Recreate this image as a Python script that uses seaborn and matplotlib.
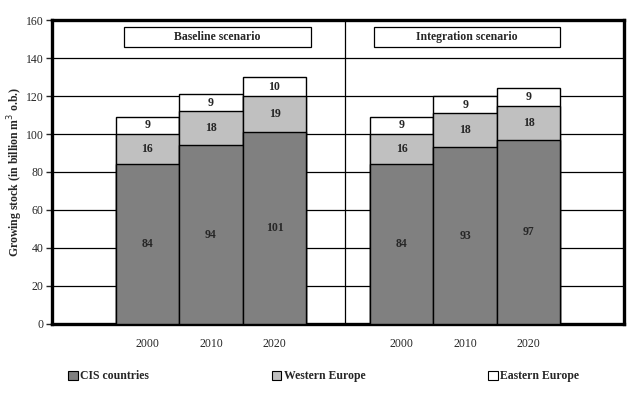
import matplotlib
matplotlib.use("Agg")
import matplotlib.pyplot as plt
from matplotlib.patches import Patch, Rectangle
import seaborn as sns
import pandas as pd
import numpy as np

# data
years = ["2000", "2010", "2020"]
slots_baseline = [1, 2, 3]
slots_integration = [5, 6, 7]
cis_baseline = [84, 94, 101]
west_baseline = [16, 18, 19]
east_baseline = [9, 9, 10]
cis_integration = [84, 93, 97]
west_integration = [16, 18, 18]
east_integration = [9, 9, 9]

series = ["CIS countries", "Western Europe", "Eastern Europe"]
colors = ["#808080", "#c0c0c0", "#ffffff"]

df = pd.DataFrame({
    "slot": slots_baseline + slots_integration,
    "year": years + years,
    "CIS countries": cis_baseline + cis_integration,
    "Western Europe": west_baseline + west_integration,
    "Eastern Europe": east_baseline + east_integration,
})
df["cum1"] = df["CIS countries"]
df["cum2"] = df["cum1"] + df["Western Europe"]
df["cum3"] = df["cum2"] + df["Eastern Europe"]

sns.set_style("white")
plt.rcParams["font.family"] = ["Liberation Serif", "DejaVu Serif"]

fig = plt.figure(figsize=(6.42, 3.94), dpi=100)
ax = fig.add_axes([0.081, 0.178, 0.891, 0.771])

# stacked bars: draw cumulative totals from top down
for col, c in zip(["cum3", "cum2", "cum1"], colors[::-1]):
    sns.barplot(data=df, x="slot", y=col, native_scale=True, width=1.0,
                color=c, edgecolor="black", linewidth=1.0, saturation=1,
                errorbar=None, ax=ax, zorder=3)

# value labels in segment centres
for _, r in df.iterrows():
    lo = 0
    for s in series:
        v = r[s]
        ax.text(r["slot"], lo + v / 2, f"{v}", ha="center", va="center",
                fontsize=8.5, fontweight="bold", zorder=5)
        lo += v

ax.set_xlim(-0.5, 8.5)
ax.set_ylim(0, 160)
ax.set_yticks(np.arange(0, 161, 20))
ax.set_xticks(df["slot"])
ax.set_xticklabels(df["year"])
ax.tick_params(axis="x", length=0, pad=10, labelsize=8.5)
ax.tick_params(axis="y", length=4, width=1, direction="out", left=True,
               pad=2, labelsize=8.5)
for y in range(20, 160, 20):
    ax.axhline(y, color="black", lw=0.9, zorder=1)
ax.axvline(4.11, color="black", lw=0.9, zorder=1)
for sp in ax.spines.values():
    sp.set_visible(True)
    sp.set_color("black")
    sp.set_linewidth(2.4)
ax.set_xlabel("")
ax.set_ylabel("Growing stock (in billion m$^{3}$ o.b.)", fontsize=8.5,
              fontweight="bold")
ax.yaxis.set_label_coords(-0.048, 0.5)

# scenario title boxes
for x0, x1, label in [(0.633, 3.575, "Baseline scenario"),
                      (4.566, 7.49, "Integration scenario")]:
    ax.add_patch(Rectangle((x0, 145.8), x1 - x0, 10.5, facecolor="white",
                           edgecolor="black", lw=0.9, zorder=4))
    ax.text((x0 + x1) / 2, 151, label, ha="center", va="center",
            fontsize=8.5, fontweight="bold", zorder=5)

handles = [Patch(facecolor=c, edgecolor="black", lw=0.8) for c in colors]
fig.legend(handles, series, loc="center left", bbox_to_anchor=(0.09, 0.045),
           ncol=3, frameon=False, handlelength=0.8, handleheight=0.8,
           handletextpad=0.2, columnspacing=10.4,
           prop={"weight": "bold", "size": 8.5})

fig.savefig("out.png", dpi=100)
